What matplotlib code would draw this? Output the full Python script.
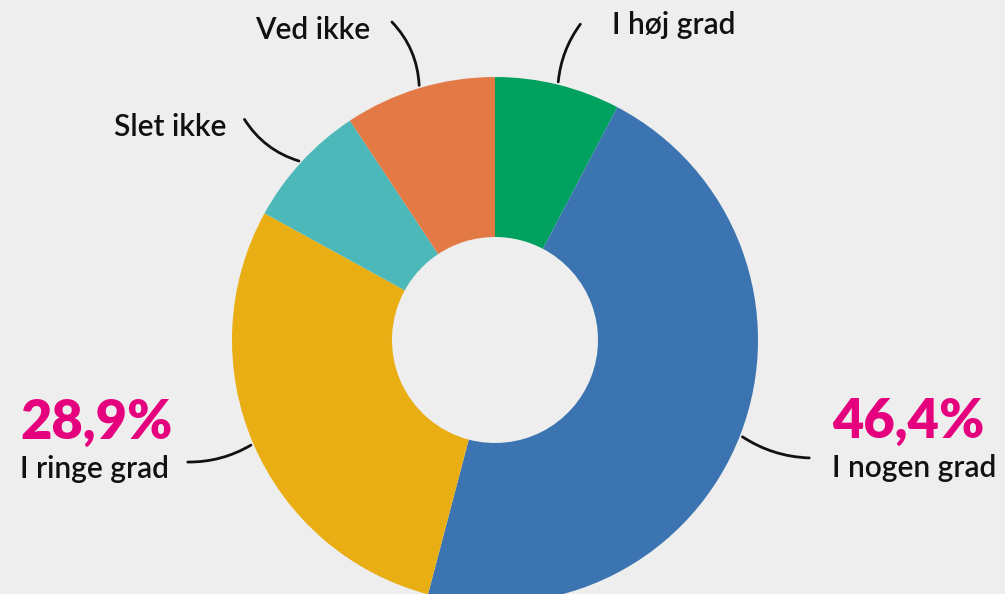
import matplotlib.pyplot as plt
import numpy as np

# Survey answers, clockwise from the top
labels = ["I høj grad", "I nogen grad", "I ringe grad", "Slet ikke", "Ved ikke"]
values = [7.7, 46.4, 28.9, 7.7, 9.3]
colors = ["#00a05e", "#3c74b1", "#e9ae14", "#4db8b9", "#e37a45"]
highlight = {"I nogen grad": "46,4%", "I ringe grad": "28,9%"}

bg = "#eeeeee"
pink = "#e5007d"

fig = plt.figure(figsize=(10.05, 5.94), dpi=100, facecolor=bg)
ax = fig.add_axes([0, 0, 1, 1])
ax.set_facecolor(bg)

# work in pixel units, y going up
cx, cy, r = 495, 254, 263
wedges, _ = ax.pie(values, colors=colors, startangle=90, counterclock=False,
                   center=(cx, cy), radius=r,
                   wedgeprops=dict(width=r - 103, edgecolor="none"))
ax.set_xlim(0, 1005)
ax.set_ylim(0, 594)
ax.set_aspect("equal")
ax.axis("off")

# where each label text sits and how the leader line bends
text_pos = {
    "I høj grad": (612, 569, "left", 0.15),
    "I nogen grad": (832, 126, "left", -0.15),
    "I ringe grad": (20, 125, "left", 0.15),
    "Slet ikke": (226, 467, "right", 0.2),
    "Ved ikke": (370, 564, "right", -0.2),
}
line_end = {
    "I høj grad": (582, 572),
    "I nogen grad": (812, 136),
    "I ringe grad": (185, 132),
    "Slet ikke": (243, 477),
    "Ved ikke": (390, 574),
}

for w, lab in zip(wedges, labels):
    ang = np.deg2rad((w.theta1 + w.theta2) / 2)
    ex, ey = cx + r * np.cos(ang), cy + r * np.sin(ang)
    tx, ty, ha, rad = text_pos[lab]
    ax.annotate("", xy=(ex, ey), xytext=line_end[lab],
                arrowprops=dict(arrowstyle="-", color="#111111", lw=2,
                                connectionstyle=f"arc3,rad={rad}"))
    ax.text(tx, ty, lab, ha=ha, va="center", fontsize=21.5, family="Lato",
            fontweight="semibold", color="#111111")
    if lab in highlight:
        ax.text(tx, ty + 46, highlight[lab], ha="left", va="center",
                fontsize=39, family="Lato", fontweight="heavy", color=pink)

plt.savefig("out.png", dpi=100, facecolor=bg)
